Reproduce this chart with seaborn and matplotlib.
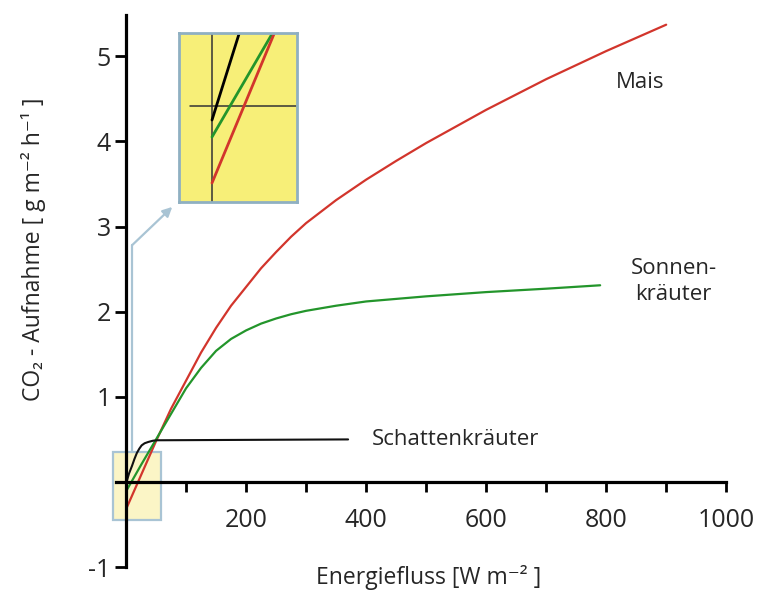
import numpy as np
import pandas as pd
import matplotlib
matplotlib.use('Agg')
import matplotlib.pyplot as plt
import matplotlib.patches as mpatches
import seaborn as sns

# values
energie_mais = [0, 25, 50, 75, 100, 125, 150, 175, 200, 225, 250, 275, 300, 350, 400, 450, 500, 600, 700, 800, 900]
co2_mais = [-0.32, 0.08, 0.48, 0.86, 1.19, 1.52, 1.81, 2.07, 2.29, 2.51, 2.70, 2.88, 3.04, 3.31, 3.55, 3.77, 3.98, 4.37, 4.73, 5.06, 5.37]

energie_sonne = [0, 25, 50, 75, 100, 125, 150, 175, 200, 225, 250, 275, 300, 350, 400, 450, 500, 600, 700, 790]
co2_sonne = [-0.11, 0.20, 0.50, 0.80, 1.10, 1.34, 1.54, 1.68, 1.78, 1.86, 1.92, 1.97, 2.01, 2.07, 2.12, 2.15, 2.18, 2.23, 2.27, 2.31]

energie_schatten = [0, 5, 10, 14, 18, 22, 26, 31, 37, 45, 52, 370]
co2_schatten = [-0.02, 0.10, 0.19, 0.27, 0.34, 0.39, 0.43, 0.455, 0.47, 0.485, 0.49, 0.50]

xticks_major = [200, 400, 600, 800, 1000]
xticks_minor = [100, 300, 500, 700, 900]
yticks = [-1, 1, 2, 3, 4, 5]

# magnified view near the origin (inset units)
inset_x = [0, 27, 0, 60, 0, 62]
inset_y = [-14, 72, -31, 72, -77, 72]

RED = '#d2352c'
GREEN = '#23952b'
BOX_BLUE = '#8fb0c2'
ARROW_BLUE = '#a9c4d4'

sns.set_theme(style='white')
plt.rcParams['font.family'] = ['Open Sans', 'DejaVu Sans']
plt.rcParams['axes.unicode_minus'] = False

fig = plt.figure(figsize=(7.58, 5.91), dpi=100)
ax = fig.add_axes([0, 0, 1, 1])
ax.set_xlim(-210, 1053)
ax.set_ylim(-1.28, 5.66)
ax.patch.set_alpha(0)

# small highlighted box around origin
ax.add_patch(mpatches.Rectangle((-22, -0.45), 80, 0.80, facecolor='#fbf5c6',
                                edgecolor=ARROW_BLUE, lw=1.6, zorder=1))

# arrow from small box to inset
ax.plot([10, 10], [0.35, 2.78], color=ARROW_BLUE, lw=1.6, zorder=1)
ax.annotate('', xy=(77, 3.23), xytext=(10, 2.78),
            arrowprops=dict(arrowstyle='-|>', color=ARROW_BLUE, lw=1.6,
                            mutation_scale=14, shrinkA=0, shrinkB=0), zorder=1)

sns.lineplot(x=energie_mais, y=co2_mais, ax=ax, color=RED, lw=1.6, zorder=3)
sns.lineplot(x=energie_sonne, y=co2_sonne, ax=ax, color=GREEN, lw=1.6, zorder=3)
sns.lineplot(x=energie_schatten, y=co2_schatten, ax=ax, color='#111111', lw=1.5, zorder=3)

# axes through origin
for s in ['top', 'right']:
    ax.spines[s].set_visible(False)
ax.spines['left'].set_position(('data', 0))
ax.spines['bottom'].set_position(('data', 0))
ax.spines['left'].set_bounds(-1, 5.48)
ax.spines['bottom'].set_bounds(-16, 1000)
for s in ['left', 'bottom']:
    ax.spines[s].set_linewidth(2.3)
    ax.spines[s].set_color('black')
    ax.spines[s].set_zorder(4)

ax.set_xticks(xticks_major)
ax.set_xticks(xticks_minor, minor=True)
ax.set_yticks(yticks)
ax.tick_params(axis='x', which='both', direction='out', length=7, width=2, color='black',
               labelsize=18, pad=12, bottom=True)
ax.tick_params(axis='y', direction='out', length=8, width=2, color='black',
               labelsize=18, pad=3, left=True)

ax.set_xlabel('Energiefluss [W m\u207b\u00b2 ]', fontsize=16.5, va='center')
ax.xaxis.set_label_coords(429 / 758, 1 - 578 / 591)
ax.set_ylabel('CO\u2082 - Aufnahme [ g m\u207b\u00b2 h\u207b\u00b9 ]', fontsize=16.5, va='center')
ax.yaxis.set_label_coords(34 / 758, 1 - 249 / 591)

ax.text(857, 4.69, 'Mais', fontsize=16, ha='center', va='center')
ax.text(912, 2.35, 'Sonnen-\nkräuter', fontsize=16, ha='center', va='center', linespacing=1.3)
ax.text(410, 0.50, 'Schattenkräuter', fontsize=16, ha='left', va='center')

# inset
axi = fig.add_axes([179.3 / 758, 1 - 201.7 / 591, 117.4 / 758, 168.4 / 591])
axi.set_facecolor('#f7ef78')
axi.set_xlim(-32.7, 84.7)
axi.set_ylim(-95.7, 72.7)
axi.axvline(0, color='#333333', lw=1.1)
axi.plot([-22, 84], [0, 0], color='#333333', lw=1.1)
for i, c in enumerate(['black', GREEN, RED]):
    sns.lineplot(x=inset_x[2 * i:2 * i + 2], y=inset_y[2 * i:2 * i + 2], ax=axi,
                 color=c, lw=2.0)
axi.set_xticks([])
axi.set_yticks([])
for s in axi.spines.values():
    s.set_edgecolor(BOX_BLUE)
    s.set_linewidth(2.0)

fig.savefig('out.png', dpi=100)
